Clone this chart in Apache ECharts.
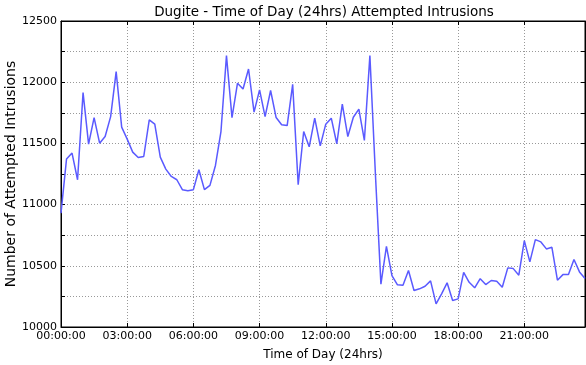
<!DOCTYPE html>
<html><head><meta charset="utf-8">
<script src="https://cdn.jsdelivr.net/npm/echarts@6/dist/echarts.min.js"></script>
<style>html,body{margin:0;padding:0;background:#fff}#c{width:586px;height:365px}</style>
</head><body><div id="c"></div>
<script>
var titleText = 'Dugite - Time of Day (24hrs) Attempted Intrusions';
var xName = 'Time of Day (24hrs)';
var yName = 'Number of Attempted Intrusions';
// 15-minute slots, 00:00:00 .. 23:45:00
var times = [];
for (var h = 0; h < 24; h++) for (var m = 0; m < 60; m += 15)
  times.push((h < 10 ? '0' : '') + h + ':' + (m < 10 ? '0' : '') + m + ':00');
var intrusions = [
 10930, 11372, 11421, 11203, 11915, 11494, 11711, 11502, 11556, 11719,
 12087, 11633, 11535, 11429, 11385, 11393, 11692, 11657, 11388, 11290,
 11230, 11203, 11122, 11114, 11122, 11285, 11122, 11157, 11320, 11597,
 12217, 11711, 11992, 11945, 12108, 11755, 11937, 11719, 11932, 11711,
 11652, 11646, 11982, 11162, 11597, 11472, 11706, 11480, 11657, 11706,
 11497, 11821, 11556, 11714, 11780, 11524, 12217, 11250, 10350, 10659,
 10420, 10345, 10341, 10461, 10298, 10312, 10333, 10377, 10189, 10271,
 10361, 10216, 10230, 10447, 10365, 10320, 10395, 10347, 10380, 10374,
 10325, 10483, 10477, 10423, 10706, 10532, 10714, 10695, 10638, 10651,
 10382, 10428, 10428, 10551, 10450, 10396
];
var yMin = 10000, yMax = 12500;
var font = 'DejaVu Sans';
var chart = echarts.init(document.getElementById('c'), null, {renderer: 'canvas'});
var tickStyle = {show: true, inside: true, length: 4, lineStyle: {color: '#000'}};
chart.setOption({
  animation: false,
  title: {text: titleText, left: 319, textAlign: 'center', top: 0,
    textStyle: {fontFamily: font, fontSize: 13.5, fontWeight: 'normal', color: '#000'}},
  grid: {left: 61, right: 1, top: 21, bottom: 38, show: true, borderColor: '#000', borderWidth: 1,
    containLabel: false, outerBoundsMode: 'none'},
  xAxis: [{
    type: 'category', data: times, boundaryGap: false,
    name: xName, nameLocation: 'middle', nameGap: 22,
    nameTextStyle: {fontFamily: font, fontSize: 12, color: '#000'},
    axisLine: {lineStyle: {color: '#000'}},
    axisTick: Object.assign({interval: 11}, tickStyle),
    axisLabel: {interval: 11, margin: 4, fontFamily: font, fontSize: 11, color: '#000'},
    splitLine: {show: true, interval: 11, lineStyle: {color: '#999', type: [1, 2], width: 1}}
  }, {
    type: 'category', data: times, boundaryGap: false, position: 'top',
    axisLine: {lineStyle: {color: '#000'}},
    axisTick: Object.assign({interval: 11}, tickStyle),
    axisLabel: {show: false}, splitLine: {show: false}
  }],
  yAxis: [{
    type: 'value', min: yMin, max: yMax, interval: 250,
    name: yName, nameLocation: 'middle', nameGap: 43, nameMoveOverlap: false,
    nameTextStyle: {fontFamily: font, fontSize: 14, color: '#000'},
    axisLine: {show: true, lineStyle: {color: '#000'}},
    axisTick: tickStyle,
    axisLabel: {margin: 4, fontFamily: font, fontSize: 11, color: '#000',
      formatter: function (v) { return v % 500 === 0 ? String(v) : ''; }},
    splitLine: {show: true, lineStyle: {color: '#999', type: [1, 2], width: 1}}
  }, {
    type: 'value', min: yMin, max: yMax, interval: 250, position: 'right',
    axisLine: {show: true, lineStyle: {color: '#000'}},
    axisTick: tickStyle, axisLabel: {show: false}, splitLine: {show: false}
  }],
  series: [{
    type: 'line', data: intrusions, showSymbol: false, symbol: 'none',
    lineStyle: {color: '#5a5aff', width: 1.5}
  }]
});
</script></body></html>
